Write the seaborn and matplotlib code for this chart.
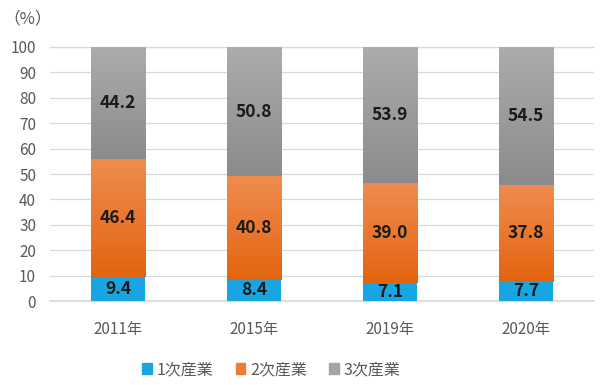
import numpy as np
import matplotlib
matplotlib.use("Agg")
import matplotlib.pyplot as plt
import seaborn as sns
from matplotlib.colors import LinearSegmentedColormap
from matplotlib.patches import Patch

sns.set_theme(style="white")
plt.rcParams['font.family'] = ['Noto Sans CJK JP', 'DejaVu Sans']

years = ['2011年', '2015年', '2019年', '2020年']
primary = [9.4, 8.4, 7.1, 7.7]
secondary = [46.4, 40.8, 39.0, 37.8]
tertiary = [44.2, 50.8, 53.9, 54.5]
series_names = ['1次産業', '2次産業', '3次産業']

p = np.array(primary)
s = np.array(secondary)
t = np.array(tertiary)

fig = plt.figure(figsize=(6, 3.85), dpi=100)
ax = fig.add_axes([0.0833, 0.218, 0.9067, 0.66])

# 積み上げ（大きい順に重ねる）
kw = dict(width=0.40, ax=ax, saturation=1, linewidth=0)
sns.barplot(x=years, y=p + s + t, color='#A5A5A5', zorder=2, **kw)
sns.barplot(x=years, y=p + s, color='#ED7D31', zorder=3, **kw)
sns.barplot(x=years, y=p, color='#17A6E2', zorder=4, **kw)

# グラデーション
grad_gray = LinearSegmentedColormap.from_list('g', ['#8B8B8B', '#ACACAC'])
grad_orange = LinearSegmentedColormap.from_list('o', ['#E3640F', '#F08C50'])
ramp = np.linspace(0, 1, 256).reshape(-1, 1)
bars = ax.patches[:4]
for i, b in enumerate(bars):
    x0, w = b.get_x(), b.get_width()
    ax.imshow(ramp, cmap=grad_orange, origin='lower', aspect='auto',
              extent=[x0, x0 + w, p[i], p[i] + s[i]], zorder=3.5)
    ax.imshow(ramp, cmap=grad_gray, origin='lower', aspect='auto',
              extent=[x0, x0 + w, p[i] + s[i], 100], zorder=2.5)

ax.set_xlim(-0.5, 3.5)
ax.set_ylim(0, 100)
ax.set_yticks(range(0, 101, 10))
ax.yaxis.grid(True, color='#D9D9D9', linewidth=0.9, zorder=0)
ax.set_axisbelow(True)
for sp in ['top', 'right', 'left']:
    ax.spines[sp].set_visible(False)
ax.spines['bottom'].set_color('#D9D9D9')
ax.tick_params(axis='y', length=0, pad=10, labelsize=11, labelcolor='#595959')
ax.tick_params(axis='x', length=0, pad=14, labelsize=11, labelcolor='#595959')
ax.set_xlabel('')
ax.set_ylabel('')
ax.axhline(100, color='#D9D9D9', linewidth=0.9, zorder=0, clip_on=False)

# データラベル
for i in range(4):
    ax.text(i, p[i] / 2, f'{p[i]:.1f}', ha='center', va='center',
            fontsize=12.5, fontweight='bold', color='#1a1a1a', zorder=6)
    ax.text(i, p[i] + s[i] / 2, f'{s[i]:.1f}', ha='center', va='center',
            fontsize=12.5, fontweight='bold', color='#1a1a1a', zorder=6)
    ax.text(i, p[i] + s[i] + t[i] / 2, f'{t[i]:.1f}', ha='center', va='center',
            fontsize=12.5, fontweight='bold', color='#1a1a1a', zorder=6)

fig.text(0.005, 0.952, '（%）', fontsize=12, color='#595959', va='center')

handles = [Patch(color=c) for c in ['#17A6E2', '#ED7D31', '#A5A5A5']]
fig.legend(handles, series_names, loc='center', bbox_to_anchor=(0.452, 0.04),
           ncol=3, frameon=False, fontsize=11.5, handlelength=0.6,
           handleheight=0.6, handletextpad=0.3, columnspacing=1.4,
           labelcolor='#595959')

fig.savefig('out.png', dpi=100)
